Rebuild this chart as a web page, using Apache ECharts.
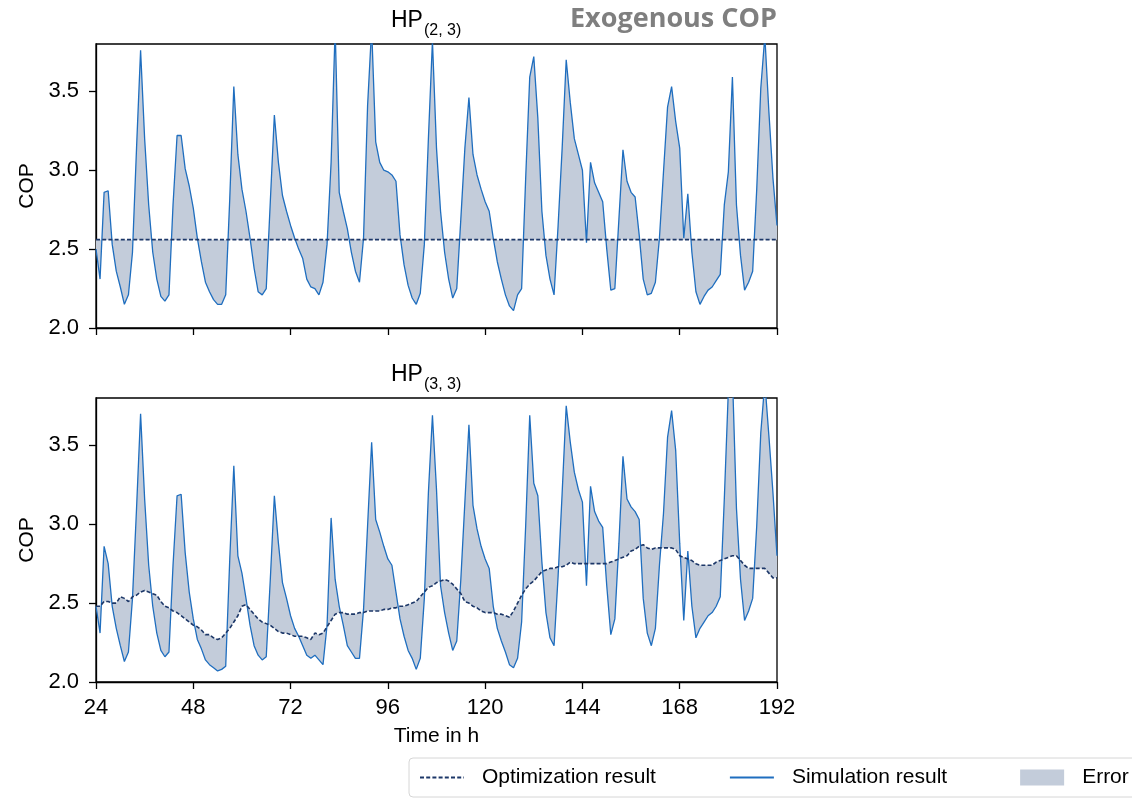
<!DOCTYPE html>
<html>
<head>
<meta charset="utf-8">
<title>Exogenous COP</title>
<script src="https://cdn.jsdelivr.net/npm/echarts@6.0.0/dist/echarts.min.js"></script>
<style>
    html, body { margin: 0; padding: 0; background: #fff; }
    #main { width: 1132px; height: 798px; }
</style>
</head>
<body>
<div id="main"></div>
<script>
// 时间轴：24 h 到 192 h，每小时一个点
var hours = [];
for (var h = 24; h <= 192; h++) {
    hours.push(h);
}
var xTicks = [24, 48, 72, 96, 120, 144, 168, 192];
var yTicks = [2.0, 2.5, 3.0, 3.5];

// HP(2, 3)：仿真结果
var simTop = [
    2.50, 2.31, 2.86, 2.87, 2.53, 2.36, 2.26, 2.15, 2.21, 2.48, 3.14, 3.76,
    3.20, 2.78, 2.48, 2.31, 2.20, 2.17, 2.21, 2.78, 3.22, 3.22, 3.01, 2.90,
    2.76, 2.57, 2.42, 2.29, 2.23, 2.18, 2.15, 2.15, 2.21, 2.82, 3.53, 3.10,
    2.88, 2.74, 2.57, 2.38, 2.23, 2.21, 2.25, 2.80, 3.35, 3.05, 2.84, 2.74,
    2.65, 2.57, 2.50, 2.44, 2.31, 2.26, 2.25, 2.21, 2.29, 2.53, 3.05, 3.90,
    2.86, 2.74, 2.63, 2.48, 2.36, 2.29, 2.57, 3.41, 3.90, 3.18, 3.05, 3.00,
    2.99, 2.97, 2.93, 2.59, 2.40, 2.27, 2.19, 2.15, 2.22, 2.53, 3.20, 3.82,
    3.14, 2.74, 2.48, 2.31, 2.19, 2.25, 2.69, 3.14, 3.46, 3.10, 2.97, 2.88,
    2.80, 2.74, 2.57, 2.42, 2.31, 2.21, 2.14, 2.11, 2.21, 2.25, 2.95, 3.59,
    3.72, 3.33, 2.74, 2.46, 2.31, 2.21, 2.65, 3.14, 3.70, 3.43, 3.20, 3.10,
    3.00, 2.54, 3.05, 2.92, 2.86, 2.80, 2.50, 2.24, 2.25, 2.69, 3.13, 2.93,
    2.86, 2.83, 2.59, 2.31, 2.21, 2.22, 2.29, 2.57, 2.99, 3.40, 3.53, 3.31,
    3.14, 2.57, 2.85, 2.48, 2.23, 2.15, 2.20, 2.24, 2.26, 2.30, 2.34, 2.78,
    2.99, 3.59, 2.78, 2.46, 2.24, 2.29, 2.36, 2.88, 3.52, 3.85, 3.37, 2.95,
    2.65
];
// HP(2, 3)：优化结果为常数
var optTopLevel = 2.56;

// HP(3, 3)：仿真结果
var simBot = [
    2.48, 2.31, 2.86, 2.75, 2.48, 2.34, 2.23, 2.13, 2.19, 2.53, 3.10, 3.70,
    3.16, 2.74, 2.48, 2.31, 2.20, 2.16, 2.19, 2.74, 3.18, 3.19, 2.82, 2.57,
    2.40, 2.27, 2.21, 2.14, 2.11, 2.09, 2.07, 2.08, 2.10, 2.78, 3.37, 2.80,
    2.69, 2.53, 2.36, 2.23, 2.17, 2.14, 2.16, 2.65, 3.18, 2.88, 2.63, 2.53,
    2.42, 2.34, 2.29, 2.23, 2.17, 2.15, 2.17, 2.14, 2.11, 2.36, 3.04, 2.65,
    2.48, 2.36, 2.23, 2.19, 2.15, 2.15, 2.46, 2.99, 3.52, 3.03, 2.95, 2.86,
    2.78, 2.74, 2.57, 2.40, 2.29, 2.20, 2.15, 2.08, 2.15, 2.53, 3.20, 3.69,
    3.22, 2.61, 2.44, 2.31, 2.20, 2.26, 2.65, 3.14, 3.63, 3.12, 2.97, 2.86,
    2.78, 2.72, 2.48, 2.34, 2.26, 2.19, 2.11, 2.09, 2.15, 2.38, 2.99, 3.69,
    3.26, 3.18, 2.76, 2.44, 2.28, 2.23, 2.67, 3.20, 3.75, 3.52, 3.33, 3.22,
    3.14, 2.61, 3.24, 3.08, 3.02, 2.98, 2.61, 2.30, 2.40, 2.88, 3.43, 3.16,
    3.11, 3.08, 3.03, 2.53, 2.31, 2.23, 2.34, 2.74, 3.07, 3.55, 3.72, 3.47,
    2.88, 2.39, 2.83, 2.48, 2.28, 2.34, 2.38, 2.42, 2.44, 2.48, 2.54, 3.16,
    3.85, 3.95, 3.10, 2.65, 2.39, 2.45, 2.53, 2.99, 3.58, 3.90, 3.56, 3.20,
    2.80
];
// HP(3, 3)：优化结果
var optBot = [
    2.48, 2.48, 2.51, 2.51, 2.50, 2.50, 2.54, 2.53, 2.51, 2.54, 2.55, 2.57,
    2.58, 2.57, 2.56, 2.55, 2.51, 2.48, 2.47, 2.45, 2.44, 2.42, 2.40, 2.38,
    2.36, 2.35, 2.33, 2.30, 2.30, 2.28, 2.27, 2.28, 2.31, 2.34, 2.38, 2.42,
    2.48, 2.49, 2.46, 2.43, 2.40, 2.38, 2.37, 2.36, 2.34, 2.32, 2.31, 2.31,
    2.30, 2.29, 2.29, 2.29, 2.28, 2.27, 2.31, 2.30, 2.31, 2.35, 2.39, 2.43,
    2.44, 2.44, 2.43, 2.43, 2.43, 2.44, 2.44, 2.45, 2.45, 2.45, 2.45, 2.46,
    2.46, 2.47, 2.47, 2.48, 2.48, 2.49, 2.50, 2.51, 2.54, 2.57, 2.60, 2.61,
    2.63, 2.64, 2.65, 2.64, 2.62, 2.59, 2.56, 2.51, 2.50, 2.48, 2.47, 2.45,
    2.44, 2.44, 2.44, 2.43, 2.43, 2.42, 2.41, 2.45, 2.50, 2.55, 2.59, 2.62,
    2.64, 2.67, 2.70, 2.71, 2.72, 2.72, 2.73, 2.73, 2.74, 2.76, 2.75, 2.75,
    2.75, 2.75, 2.75, 2.75, 2.75, 2.75, 2.75, 2.76, 2.77, 2.78, 2.79, 2.80,
    2.83, 2.84, 2.86, 2.87, 2.85, 2.84, 2.85, 2.85, 2.85, 2.85, 2.85, 2.84,
    2.80, 2.79, 2.78, 2.77, 2.75, 2.74, 2.74, 2.74, 2.74, 2.76, 2.77, 2.78,
    2.79, 2.80, 2.80, 2.77, 2.74, 2.72, 2.72, 2.72, 2.72, 2.72, 2.69, 2.66,
    2.66
];

var simColor = '#1f6ebf';
var optColor = '#1c3768';
var errorColor = '#c3ccda';

var optTop = [];
for (var k = 0; k < hours.length; k++) {
    optTop.push(optTopLevel);
}

function pairs(ys) {
    var arr = [];
    for (var i = 0; i < hours.length; i++) {
        arr.push([hours[i], ys[i]]);
    }
    return arr;
}

// 仿真与优化之间的误差面积（多边形：仿真正向 + 优化反向）
function errorArea(sim, opt) {
    return function (params, api) {
        var pts = [];
        for (var i = 0; i < hours.length; i++) {
            pts.push(api.coord([hours[i], sim[i]]));
        }
        for (var j = hours.length - 1; j >= 0; j--) {
            pts.push(api.coord([hours[j], opt[j]]));
        }
        var cs = params.coordSys;
        return {
            type: 'polygon',
            shape: { points: pts },
            style: { fill: errorColor },
            clipPath: {
                type: 'rect',
                shape: { x: cs.x, y: cs.y, width: cs.width, height: cs.height }
            },
            silent: true
        };
    };
}

function xAxisOf(gridIndex, showLabel) {
    return {
        type: 'value',
        gridIndex: gridIndex,
        min: 24,
        max: 192,
        interval: 24,
        name: showLabel ? 'Time in h' : '',
        nameLocation: 'middle',
        nameGap: 44,
        nameTextStyle: { fontSize: 21, color: '#000' },
        axisLine: { show: true, lineStyle: { color: '#000', width: 1.3 } },
        axisTick: { show: true, length: 7, customValues: xTicks, lineStyle: { color: '#000', width: 1.3 } },
        axisLabel: { show: showLabel, customValues: xTicks, margin: 15, fontSize: 22, color: '#000' },
        splitLine: { show: false }
    };
}

function yAxisOf(gridIndex) {
    return {
        type: 'value',
        gridIndex: gridIndex,
        min: 2.0,
        max: 3.8,
        name: 'COP',
        nameLocation: 'middle',
        nameGap: 58,
        nameTextStyle: { fontSize: 21, color: '#000' },
        axisLine: { show: true, lineStyle: { color: '#000', width: 1.3 } },
        axisTick: { show: true, length: 7, customValues: yTicks, lineStyle: { color: '#000', width: 1.3 } },
        axisLabel: {
            customValues: yTicks,
            margin: 17,
            fontSize: 22,
            color: '#000',
            formatter: function (v) { return Number(v).toFixed(1); }
        },
        splitLine: { show: false }
    };
}

// 子图标题：HP 加下标
function hpTitle(top, sub) {
    return [
        {
            text: 'HP',
            left: 391,
            top: top,
            padding: 0,
            textStyle: { fontSize: 23, fontWeight: 'normal', color: '#000' }
        },
        {
            text: sub,
            left: 424,
            top: top + 14,
            padding: 0,
            textStyle: { fontSize: 16, fontWeight: 'normal', color: '#000' }
        }
    ];
}

var myChart = echarts.init(document.getElementById('main'), null, { renderer: 'canvas' });

var option = {
    animation: false,
    backgroundColor: '#fff',
    textStyle: { fontFamily: 'Liberation Sans, Arial, sans-serif' },
    title: hpTitle(9, '(2, 3)').concat(hpTitle(363, '(3, 3)')).concat([
        {
            text: 'Exogenous COP',
            left: 570,
            top: 6,
            padding: 0,
            textStyle: {
                fontFamily: 'Open Sans',
                fontWeight: 'bold',
                fontSize: 27,
                color: '#7f7f7f'
            }
        }
    ]),
    legend: {
        left: 409,
        top: 758,
        width: 900,
        padding: [9, 10, 9, 10],
        itemWidth: 44,
        itemHeight: 16,
        itemGap: 73,
        borderColor: '#d6d6d6',
        borderWidth: 1,
        borderRadius: 4,
        selectedMode: false,
        textStyle: { fontSize: 21, color: '#000', padding: [0, 0, 0, 13] },
        data: [
            { name: 'Optimization result', itemStyle: { opacity: 0 } },
            { name: 'Simulation result', itemStyle: { opacity: 0 } },
            { name: 'Error', icon: 'rect' }
        ]
    },
    grid: [
        { left: 96, top: 44, width: 681, height: 284, show: true, borderColor: '#000', borderWidth: 1.3, outerBoundsMode: 'none' },
        { left: 96, top: 398, width: 681, height: 284, show: true, borderColor: '#000', borderWidth: 1.3, outerBoundsMode: 'none' }
    ],
    xAxis: [xAxisOf(0, false), xAxisOf(1, true)],
    yAxis: [yAxisOf(0), yAxisOf(1)],
    series: [
        {
            name: 'Error',
            type: 'custom',
            xAxisIndex: 0,
            yAxisIndex: 0,
            itemStyle: { color: errorColor },
            data: [[24, 2.5]],
            renderItem: errorArea(simTop, optTop),
            z: 1
        },
        {
            name: 'Simulation result',
            type: 'line',
            xAxisIndex: 0,
            yAxisIndex: 0,
            symbol: 'none',
            lineStyle: { color: simColor, width: 1.3 },
            itemStyle: { color: simColor },
            data: pairs(simTop),
            z: 3
        },
        {
            name: 'Optimization result',
            type: 'line',
            xAxisIndex: 0,
            yAxisIndex: 0,
            symbol: 'none',
            lineStyle: { color: optColor, width: 1.6, type: [4, 2.2] },
            itemStyle: { color: optColor },
            data: pairs(optTop),
            z: 4
        },
        {
            name: 'Error',
            type: 'custom',
            xAxisIndex: 1,
            yAxisIndex: 1,
            itemStyle: { color: errorColor },
            data: [[24, 2.5]],
            renderItem: errorArea(simBot, optBot),
            z: 1
        },
        {
            name: 'Simulation result',
            type: 'line',
            xAxisIndex: 1,
            yAxisIndex: 1,
            symbol: 'none',
            lineStyle: { color: simColor, width: 1.3 },
            itemStyle: { color: simColor },
            data: pairs(simBot),
            z: 3
        },
        {
            name: 'Optimization result',
            type: 'line',
            xAxisIndex: 1,
            yAxisIndex: 1,
            symbol: 'none',
            lineStyle: { color: optColor, width: 1.6, type: [4, 2.2] },
            itemStyle: { color: optColor },
            data: pairs(optBot),
            z: 4
        }
    ]
};

myChart.setOption(option);
</script>
</body>
</html>
